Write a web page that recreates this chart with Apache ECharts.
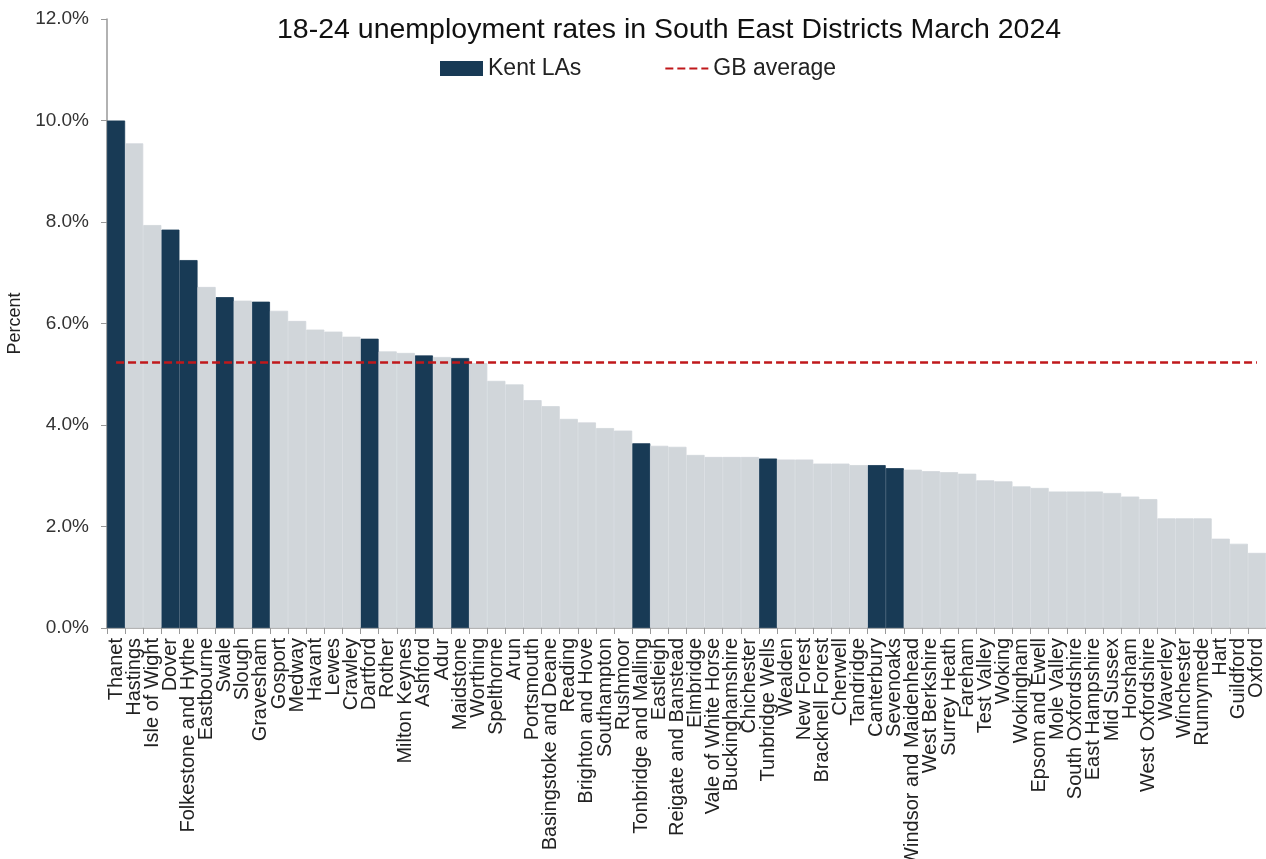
<!DOCTYPE html>
<html>
<head>
<meta charset="utf-8">
<script src="https://cdn.jsdelivr.net/npm/echarts@6/dist/echarts.min.js"></script>
<style>
html,body{margin:0;padding:0;background:#fff;}
#chart{width:1266px;height:859px;}
</style>
</head>
<body>
<div id="chart"></div>
<script>
const titleText = '18-24 unemployment rates in South East Districts March 2024';
const categories = ['Thanet','Hastings','Isle of Wight','Dover','Folkestone and Hythe','Eastbourne','Swale','Slough','Gravesham','Gosport','Medway','Havant','Lewes','Crawley','Dartford','Rother','Milton Keynes','Ashford','Adur','Maidstone','Worthing','Spelthorne','Arun','Portsmouth','Basingstoke and Deane','Reading','Brighton and Hove','Southampton','Rushmoor','Tonbridge and Malling','Eastleigh','Reigate and Banstead','Elmbridge','Vale of White Horse','Buckinghamshire','Chichester','Tunbridge Wells','Wealden','New Forest','Bracknell Forest','Cherwell','Tandridge','Canterbury','Sevenoaks','Windsor and Maidenhead','West Berkshire','Surrey Heath','Fareham','Test Valley','Woking','Wokingham','Epsom and Ewell','Mole Valley','South Oxfordshire','East Hampshire','Mid Sussex','Horsham','West Oxfordshire','Waverley','Winchester','Runnymede','Hart','Guildford','Oxford'];
const rates = [10.0,9.55,7.94,7.85,7.25,6.72,6.52,6.45,6.43,6.25,6.05,5.88,5.84,5.74,5.70,5.45,5.42,5.37,5.34,5.32,5.22,4.87,4.80,4.49,4.37,4.12,4.05,3.94,3.89,3.64,3.59,3.57,3.41,3.37,3.37,3.37,3.34,3.32,3.32,3.24,3.24,3.21,3.21,3.15,3.12,3.09,3.07,3.04,2.91,2.89,2.79,2.76,2.69,2.69,2.69,2.66,2.59,2.54,2.16,2.16,2.16,1.76,1.66,1.48];
const kentLAs = ['Thanet','Dover','Folkestone and Hythe','Swale','Gravesham','Dartford','Ashford','Maidstone','Tonbridge and Malling','Tunbridge Wells','Canterbury','Sevenoaks'];
const gbAverage = 5.23;
const yTicks = [0,2,4,6,8,10,12];

const kentData = categories.map((c,i)=> kentLAs.includes(c) ? rates[i] : '-');
const otherData = categories.map((c,i)=> kentLAs.includes(c) ? '-' : rates[i]);
const gbData = categories.map(()=> gbAverage);

const FONT = "'Liberation Sans', Arial, sans-serif";
const KENT = '#183a55', GREY = '#d1d6da', RED = '#c0181b';
const chart = echarts.init(document.getElementById('chart'), null, {renderer:'canvas'});
chart.setOption({
  animation:false,
  backgroundColor:'#fff',
  textStyle:{fontFamily:FONT, color:'#222'},
  title:{
    text:titleText, left:272, top:11,
    textStyle:{fontFamily:FONT, fontSize:28.5, fontWeight:'normal', color:'#111'}
  },
  legend:{
    left:435, top:52, itemGap:83, itemWidth:43, itemHeight:15,
    textStyle:{fontFamily:FONT, fontSize:23, color:'#222'},
    data:[{name:'Kent LAs', icon:'rect', itemStyle:{borderWidth:0}},
          {name:'GB average', itemStyle:{opacity:0}}]
  },
  grid:{left:107, right:0, top:19, bottom:231, containLabel:false, outerBoundsMode:'none'},
  xAxis:{
    type:'category', data:categories, boundaryGap:true,
    axisLine:{lineStyle:{color:'#999', width:1.5}},
    axisTick:{show:true, length:6, lineStyle:{color:'#999'}},
    axisLabel:{rotate:90, interval:0, fontSize:20, color:'#222', margin:10, fontFamily:FONT, hideOverlap:false}
  },
  yAxis:{
    type:'value', min:yTicks[0], max:yTicks[yTicks.length-1], interval:2,
    name:'Percent', nameLocation:'middle', nameGap:77,
    nameTextStyle:{fontSize:18, color:'#222', fontFamily:FONT},
    axisLine:{show:true, lineStyle:{color:'#999', width:1.5}},
    axisTick:{show:true, length:6, lineStyle:{color:'#999'}},
    splitLine:{show:false},
    axisLabel:{fontSize:19, color:'#333', margin:18, fontFamily:FONT, formatter:v=>v.toFixed(1)+'%'}
  },
  series:[
    {name:'Kent LAs', type:'bar', stack:'a', data:kentData, barWidth:'100%', barCategoryGap:'0%',
     itemStyle:{color:KENT, borderColor:KENT, borderWidth:0.8}},
    {name:'Other', type:'bar', stack:'a', data:otherData, barWidth:'100%', barCategoryGap:'0%',
     itemStyle:{color:GREY, borderColor:GREY, borderWidth:0.8}},
    {name:'GB average', type:'line', data:gbData, symbol:'none', z:10,
     itemStyle:{color:RED},
     lineStyle:{color:RED, width:2.5, type:[8,4]}}
  ]
});
</script>
</body>
</html>
